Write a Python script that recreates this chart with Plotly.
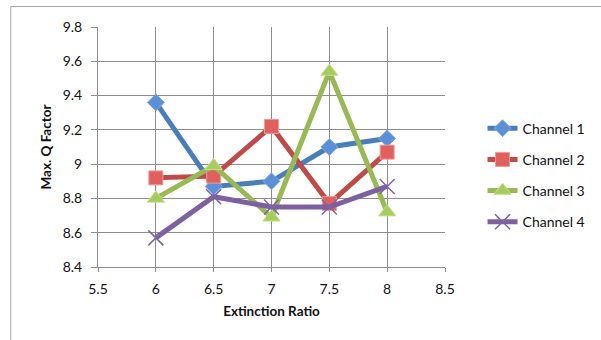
import plotly.graph_objects as go

# Extinction ratio (x) and max Q factor per channel
extinction_ratio = [6, 6.5, 7, 7.5, 8]
channel_1 = [9.36, 8.87, 8.90, 9.10, 9.15]
channel_2 = [8.92, 8.93, 9.22, 8.77, 9.07]
channel_3 = [8.80, 8.99, 8.69, 9.54, 8.72]
channel_4 = [8.57, 8.81, 8.75, 8.75, 8.87]

names = ["Channel 1", "Channel 2", "Channel 3", "Channel 4"]
series = [channel_1, channel_2, channel_3, channel_4]

line_colors = ["#4A7EBB", "#BE4B48", "#98B954", "#7D60A0"]
marker_styles = [
    dict(symbol="diamond", size=13, color="#5B90D8", line=dict(color="#7FAAE2", width=1)),
    dict(symbol="square", size=14, color="#E0605D", line=dict(color="#F29996", width=1)),
    dict(symbol="triangle-up", size=15, color="#A6CC5F", line=dict(color="#C3E08A", width=1)),
    dict(symbol="x-thin", size=15, color="#8064A2", line=dict(color="#8064A2", width=1.5)),
]

fig = go.Figure()
for i, (name, ys) in enumerate(zip(names, series)):
    fig.add_trace(go.Scatter(
        x=extinction_ratio, y=ys, name=name, mode="lines+markers",
        line=dict(color=line_colors[i], width=5),
        marker=marker_styles[i],
        legendgroup=name,
    ))

font_family = "Lato, 'Open Sans', sans-serif"
grid_color = "#8C8C8C"

fig.update_layout(
    width=601, height=340,
    margin=dict(l=98, r=155, t=27, b=73),
    paper_bgcolor="white", plot_bgcolor="white",
    font=dict(family=font_family, size=14, color="#111111"),
    showlegend=True,
    legend=dict(
        x=1.105, y=0.383, xanchor="left", yanchor="middle",
        font=dict(size=14, color="#111111"),
        traceorder="grouped", tracegroupgap=10,
        itemwidth=30, bgcolor="rgba(0,0,0,0)",
    ),
    xaxis=dict(
        range=[5.5, 8.5], dtick=0.5, tick0=5.5,
        showgrid=True, gridcolor=grid_color, gridwidth=1,
        showline=True, linecolor=grid_color, linewidth=1, mirror=False,
        ticks="outside", ticklen=4, tickcolor=grid_color,
        tickfont=dict(size=14), ticklabelstandoff=5,
        zeroline=False,
        title=dict(text="<b>Extinction Ratio</b>", font=dict(size=13.5), standoff=10),
    ),
    yaxis=dict(
        range=[8.4, 9.8], dtick=0.2, tick0=8.4,
        tickvals=[8.4, 8.6, 8.8, 9.0, 9.2, 9.4, 9.6, 9.8],
        ticktext=["8.4", "8.6", "8.8", "9", "9.2", "9.4", "9.6", "9.8"],
        showgrid=True, gridcolor=grid_color, gridwidth=1,
        showline=True, linecolor=grid_color, linewidth=1,
        ticks="outside", ticklen=6, tickcolor=grid_color,
        tickfont=dict(size=14), ticklabelstandoff=6,
        zeroline=False,
        title=dict(text="<b>Max. Q Factor</b>", font=dict(size=13.5), standoff=7),
    ),
    shapes=[
        # outer chart frame (left and top edges)
        dict(type="line", xref="paper", yref="paper",
             x0=-0.2514, x1=-0.2514, y0=1.0854, y1=-0.4,
             line=dict(color="#A6A6A6", width=1)),
        dict(type="line", xref="paper", yref="paper",
             x0=-0.2514, x1=1.5, y0=1.0854, y1=1.0854,
             line=dict(color="#A6A6A6", width=1)),
    ],
)

fig.write_html("out.html")
